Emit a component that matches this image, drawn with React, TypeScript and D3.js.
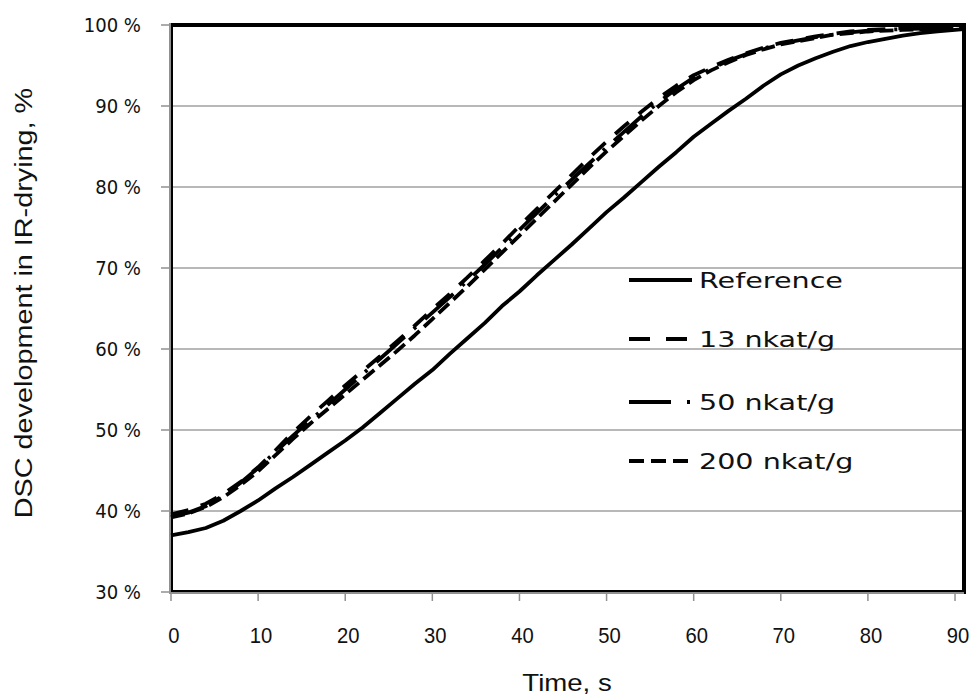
import React from 'react';
import * as d3 from 'd3';

const xTicks = [0, 10, 20, 30, 40, 50, 60, 70, 80, 90];
const yTicks = [30, 40, 50, 60, 70, 80, 90, 100];

const timeRef = [0,2,4,6,8,10,12,14,16,18,20,22,24,26,28,30,32,34,36,38,40,42,44,46,48,50,52,54,56,58,60,62,64,66,68,70,72,74,76,78,80,82,84,86,88,90,91];
const refValues = [37.0,37.4,37.9,38.8,40.0,41.3,42.8,44.2,45.7,47.2,48.7,50.3,52.1,53.9,55.7,57.4,59.4,61.3,63.2,65.3,67.1,69.1,71.0,72.9,74.9,76.9,78.7,80.6,82.5,84.3,86.2,87.8,89.4,90.9,92.5,93.9,95.0,95.9,96.7,97.4,97.9,98.3,98.7,99.0,99.2,99.4,99.5];

const timeEnz = [0,2,4,6,8,10,12,14,16,18,20,22,24,26,28,30,32,34,36,38,40,42,44,46,48,50,52,54,56,58,60,62,64,66,68,70,72,74,76,78,80,84,88,91];
const enz13 = [39.6,40.1,40.9,42.1,43.6,45.4,47.5,49.7,51.7,53.6,55.5,57.3,59.1,61.0,62.9,64.9,66.8,68.8,70.9,73.0,75.2,77.3,79.4,81.5,83.6,85.6,87.5,89.3,91.0,92.5,93.8,94.8,95.7,96.5,97.2,97.8,98.2,98.6,98.9,99.2,99.4,99.6,99.7,99.8];
const enz50 = [39.3,39.8,40.6,41.9,43.5,45.3,47.3,49.3,51.2,53.1,55.0,56.9,58.8,60.7,62.6,64.5,66.4,68.4,70.4,72.5,74.7,76.8,78.9,80.9,82.9,84.9,86.8,88.7,90.5,92.1,93.5,94.6,95.6,96.4,97.1,97.7,98.1,98.5,98.8,99.1,99.3,99.5,99.6,99.7];
const enz200 = [39.2,39.7,40.5,41.7,43.2,44.9,46.9,48.9,50.8,52.6,54.4,56.2,58.0,59.8,61.7,63.7,65.7,67.7,69.8,71.9,74.0,76.1,78.2,80.3,82.4,84.4,86.3,88.2,90.0,91.7,93.2,94.4,95.4,96.3,97.0,97.6,98.0,98.4,98.8,99.0,99.2,99.4,99.5,99.6];

const seriesNames = ['Reference', '13 nkat/g', '50 nkat/g', '200 nkat/g'];
const seriesDash = ['none', '18,13', '38,12,3,12', '14,6'];
const legendDash = ['none', '21,16', '42,16,3,30', '15,7'];

const W = 980, H = 696;
const left = 171, right = 964, top = 25, bottom = 592;

export default function App() {
  const x = d3.scaleLinear().domain([0, 91.03]).range([left, right]);
  const y = d3.scaleLinear().domain([30, 100]).range([bottom, top]);
  const line = d3.line<[number, number]>().x(d => x(d[0])).y(d => y(d[1]));

  const data: [number, number][][] = [
    timeRef.map((t, i) => [t, refValues[i]]),
    timeEnz.map((t, i) => [t, enz13[i]]),
    timeEnz.map((t, i) => [t, enz50[i]]),
    timeEnz.map((t, i) => [t, enz200[i]]),
  ];

  const legendY = [280, 339, 402, 461];

  return (
    <svg width={W} height={H} style={{ position: 'fixed', left: 0, top: 0, background: '#fff' }}>
      <rect x={0} y={0} width={W} height={H} fill="#fff" />
      {yTicks.filter(v => v > 30 && v < 100).map(v => (
        <line key={v} x1={left} x2={right} y1={y(v)} y2={y(v)} stroke="#a0a0a0" strokeWidth={1.5} />
      ))}
      <rect x={left} y={top} width={right - left} height={bottom - top} fill="none" stroke="#000" strokeWidth={4} />
      <line x1={170} x2={170} y1={top - 2} y2={bottom + 2} stroke="#909090" strokeWidth={2} />
      <line x1={170} x2={right} y1={593} y2={593} stroke="#909090" strokeWidth={2} />
      {yTicks.map(v => (
        <line key={v} x1={161} x2={171} y1={y(v)} y2={y(v)} stroke="#909090" strokeWidth={1.5} />
      ))}
      {xTicks.map(v => (
        <line key={v} x1={x(v)} x2={x(v)} y1={593} y2={601} stroke="#909090" strokeWidth={1.5} />
      ))}
      {yTicks.map(v => (
        <text key={v} transform={`translate(141,${y(v) + 7}) scale(0.95,1)`} textAnchor="end" fontFamily="DejaVu Sans" fontSize={19} fill="#111">{v} %</text>
      ))}
      {xTicks.map(v => (
        <text key={v} transform={`translate(${x(v) + 3},643) scale(0.92,1)`} textAnchor="middle" fontFamily="Liberation Sans" fontSize={22} fill="#111">{v}</text>
      ))}
      <text transform="translate(567,691) scale(1.2,1)" textAnchor="middle" fontFamily="Liberation Sans" fontSize={23} fill="#111">Time, s</text>
      <text transform="translate(32,303) rotate(-90) scale(1.2,1)" textAnchor="middle" fontFamily="Liberation Sans" fontSize={24} fill="#111">DSC development in IR-drying, %</text>

      {data.map((d, i) => (
        <path key={i} d={line(d) || ''} fill="none" stroke="#000" strokeWidth={3.8}
          strokeDasharray={seriesDash[i]} strokeLinejoin="round" />
      ))}

      {seriesNames.map((n, i) => (
        <g key={n}>
          <line x1={629} x2={692} y1={legendY[i]} y2={legendY[i]} stroke="#000" strokeWidth={4}
            strokeDasharray={legendDash[i]} />
          <text transform={`translate(699,${legendY[i] + 8}) scale(1.3,1)`} fontFamily="DejaVu Sans" fontSize={22} fill="#111">{n}</text>
        </g>
      ))}
    </svg>
  );
}
